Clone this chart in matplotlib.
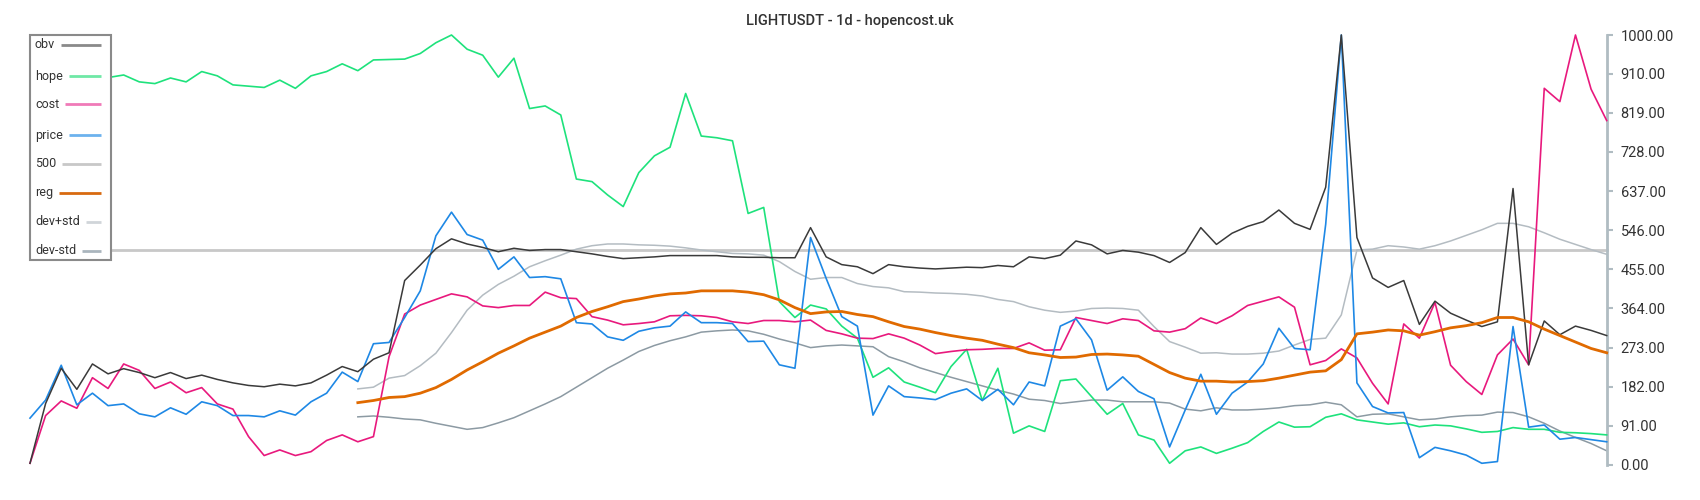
import numpy as np
import matplotlib
matplotlib.use("Agg")
import matplotlib.pyplot as plt
from matplotlib.patches import Rectangle
from matplotlib.lines import Line2D

plt.rcParams['font.family'] = ['Roboto', 'DejaVu Sans']

title = "LIGHTUSDT - 1d - hopencost.uk"
y_ticks = [0, 91, 182, 273, 364, 455, 546, 637, 728, 819, 910, 1000]
ref_level = 500
reg_start = 21

obv = [4, 143, 225, 176, 235, 212, 224, 215, 203, 215, 201, 209, 199, 191, 185, 182, 188, 184, 191, 209,
       229, 217, 246, 261, 429, 465, 503, 526, 514, 506, 496, 504, 499, 501, 501, 496, 491, 485, 480, 482,
       484, 487, 487, 487, 487, 484, 483, 483, 482, 482, 552, 484, 466, 461, 445, 466, 461, 458, 456, 458,
       460, 459, 464, 461, 484, 480, 488, 521, 512, 491, 499, 495, 487, 471, 494, 552, 513, 539, 555, 566,
       593, 562, 548, 646, 1000, 529, 435, 413, 429, 327, 381, 353, 337, 322, 333, 643, 233, 335, 303, 323,
       313, 301]
hope = [898, 900, 890, 886, 895, 901, 907, 891, 887, 900, 891, 915, 905, 884, 881, 878, 895, 876, 905, 915,
        933, 917, 942, 943, 944, 957, 982, 1000, 967, 953, 902, 946, 829, 835, 814, 665, 659, 628, 601, 680,
        719, 739, 864, 765, 761, 754, 585, 599, 380, 343, 372, 363, 323, 295, 204, 226, 193, 181, 168, 229,
        269, 150, 225, 74, 91, 78, 196, 200, 159, 118, 143, 70, 58, 4, 33, 42, 27, 39, 52, 78,
        100, 88, 89, 111, 119, 105, 100, 95, 98, 89, 93, 91, 84, 76, 78, 87, 83, 83, 76, 75,
        73, 70]
cost = [4, 115, 149, 132, 203, 178, 235, 220, 178, 193, 168, 180, 142, 130, 66, 22, 35, 22, 31, 57,
        70, 54, 66, 252, 351, 372, 385, 398, 391, 370, 366, 371, 371, 402, 389, 387, 345, 337, 326, 329,
        333, 347, 348, 347, 343, 333, 329, 336, 336, 333, 337, 313, 305, 295, 294, 305, 295, 279, 259, 264,
        268, 269, 271, 271, 284, 267, 268, 343, 336, 329, 340, 336, 312, 309, 317, 342, 329, 347, 371, 381,
        391, 367, 233, 243, 270, 249, 190, 142, 328, 295, 378, 232, 194, 164, 256, 293, 233, 876, 845, 1000,
        874, 801]
price = [109, 151, 232, 140, 167, 138, 142, 119, 112, 133, 118, 147, 138, 115, 115, 112, 126, 116, 147, 167,
         216, 194, 282, 285, 343, 405, 533, 588, 536, 523, 455, 484, 436, 438, 433, 331, 328, 298, 290, 311,
         319, 323, 356, 331, 331, 329, 287, 288, 233, 225, 529, 434, 345, 323, 116, 184, 159, 156, 152, 167,
         177, 150, 176, 140, 193, 184, 323, 340, 291, 174, 205, 171, 154, 42, 128, 211, 118, 167, 193, 235,
         318, 271, 268, 560, 1000, 191, 136, 121, 122, 17, 41, 33, 23, 4, 8, 322, 88, 93, 60, 64,
         59, 54]
reg = [145, 150, 157, 159, 167, 180, 199, 221, 240, 260, 277, 295, 309, 323, 343, 357, 368, 380, 386,
       393, 398, 400, 405, 405, 405, 402, 396, 384, 366, 352, 356, 357, 350, 345, 333, 322, 316, 308, 301,
       295, 290, 281, 273, 261, 256, 250, 251, 257, 258, 256, 253, 234, 215, 202, 195, 195, 193, 194, 196,
       202, 209, 216, 219, 245, 305, 309, 314, 312, 302, 310, 319, 324, 331, 343, 343, 333, 316, 301, 286,
       271, 261]
dev_plus = [177, 181, 202, 208, 231, 260, 308, 360, 395, 420, 439, 461, 475, 488, 502, 510, 514, 514, 512,
            511, 509, 505, 500, 496, 492, 491, 488, 473, 450, 432, 436, 436, 422, 415, 412, 403, 402, 400, 399,
            397, 393, 385, 380, 368, 360, 355, 358, 364, 365, 364, 360, 322, 287, 274, 260, 261, 258, 258, 260,
            265, 279, 292, 295, 349, 500, 502, 510, 507, 502, 510, 521, 534, 547, 562, 562, 554, 540, 525, 513,
            501, 490]
dev_minus = [112, 114, 111, 107, 105, 97, 90, 83, 87, 98, 110, 126, 142, 159, 181, 203, 225, 244, 264,
             278, 289, 298, 309, 312, 314, 312, 304, 293, 284, 273, 277, 279, 277, 275, 252, 240, 226, 215, 204,
             194, 184, 174, 165, 153, 150, 143, 147, 151, 151, 147, 147, 147, 144, 130, 126, 133, 128, 128, 130,
             133, 138, 140, 146, 140, 112, 118, 119, 112, 105, 107, 112, 115, 116, 123, 122, 112, 97, 79, 64,
             50, 33]

n = len(obv)
x = np.arange(n)
xr = np.arange(reg_start, n)

fig = plt.figure(figsize=(17, 5), dpi=100)
ax = fig.add_axes([30 / 1700, 35 / 500, (1606.7 - 30) / 1700, 430 / 500])

c_obv = '#3a3a3a'
c_hope = '#1ee27c'
c_cost = '#e8197d'
c_price = '#1e88e5'
c_500 = '#c8c8c8'
c_reg = '#e06a00'
c_dp = '#b4bcc2'
c_dm = '#8c9aa3'

ax.axhline(ref_level, color=c_500, lw=2, zorder=1, clip_on=False)
ax.plot(xr, dev_plus, color=c_dp, lw=1.1, zorder=2, clip_on=False)
ax.plot(xr, dev_minus, color=c_dm, lw=1.1, zorder=2, clip_on=False)
ax.plot(x, hope, color=c_hope, lw=1.2, zorder=3, clip_on=False)
ax.plot(x, cost, color=c_cost, lw=1.2, zorder=3, clip_on=False)
ax.plot(x, price, color=c_price, lw=1.2, zorder=3, clip_on=False)
ax.plot(x, obv, color=c_obv, lw=1.1, zorder=4, clip_on=False)
ax.plot(xr, reg, color=c_reg, lw=2.0, zorder=5, clip_on=False)

ax.set_xlim(0, n - 1)
ax.set_ylim(0, 1000)
ax.set_xticks([])
ax.yaxis.tick_right()
ax.set_yticks(y_ticks)
ax.set_yticklabels([f"{t:.2f}" for t in y_ticks])
ax.tick_params(axis='y', colors='#b0bcc2', labelcolor='#333333', labelsize=10.5,
               length=4, width=1.5, pad=6, direction='out')
for s in ['left', 'top', 'bottom']:
    ax.spines[s].set_visible(False)
ax.spines['right'].set_color('#b0bcc2')
ax.spines['right'].set_linewidth(2)
ax.patch.set_alpha(0)

fig.text(850 / 1700, 1 - 20.5 / 500, title, ha='center', va='center',
         fontsize=10.5, color='#333333', fontweight='medium')

# custom legend in pixel coordinates
ov = fig.add_axes([0, 0, 1, 1])
ov.set_xlim(0, 1700)
ov.set_ylim(500, 0)
ov.set_axis_off()
ov.patch.set_alpha(0)
ov.add_patch(Rectangle((30, 35), 81, 224.5, facecolor='white', edgecolor='#8a8a8a', lw=1.5, zorder=10))

leg_labels = ['obv', 'hope', 'cost', 'price', '500', 'reg', 'dev+std', 'dev-std']
leg_colors = ['#8a8a8a', '#6fe8a6', '#f07ab8', '#6cb2ee', '#c8c8c8', '#d86a10', '#d0d5d9', '#aab5bd']
leg_y = [44.7, 76.3, 104, 135, 163.7, 192.7, 221.7, 250.7]
texts = []
for lab, yy in zip(leg_labels, leg_y):
    t = ov.text(35, yy, lab, ha='left', va='center', fontsize=9, color='#333333', zorder=11)
    texts.append(t)
fig.canvas.draw()
r = fig.canvas.get_renderer()
for t, col, yy in zip(texts, leg_colors, leg_y):
    bb = t.get_window_extent(renderer=r)
    x0 = bb.x1 + 6
    ov.add_line(Line2D([x0, 100.7], [yy, yy], color=col, lw=2, zorder=11, solid_capstyle='butt'))

fig.savefig('out.png', dpi=100)
